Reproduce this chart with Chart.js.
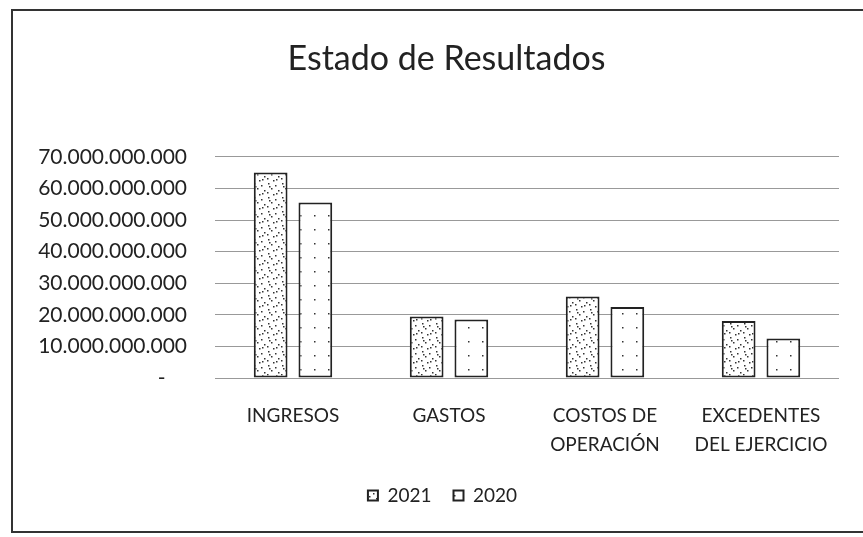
<!DOCTYPE html>
<html>
<head>
<meta charset="utf-8">
<script src="https://cdn.jsdelivr.net/npm/chart.js@4.4.1/dist/chart.umd.min.js"></script>
<style>
    html, body { margin: 0; padding: 0; background: #fff; }
    #marco {
        position: absolute; left: 11px; top: 9px; width: 900px; height: 520px;
        border-left: 2px solid #333; border-top: 2px solid #333; border-bottom: 2px solid #333;
    }
    #lienzo { position: absolute; left: 0; top: 0; }
</style>
</head>
<body>
<div id="marco"></div>
<canvas id="lienzo" width="863" height="537"></canvas>
<script>
// datos
let categorias = ["INGRESOS", "GASTOS", ["COSTOS DE", "OPERACIÓN"], ["EXCEDENTES", "DEL EJERCICIO"]];
let anios = ["2021", "2020"];
let valores2021 = [65000000000, 19500000000, 25800000000, 18000000000];
let valores2020 = [55500000000, 18500000000, 22500000000, 12500000000];

let fuente = "Lato, 'Liberation Sans', sans-serif";

function formatearMiles(valor) {
    if (valor === 0) return "-    ";
    return String(Math.round(valor)).replace(/\B(?=(\d{3})+(?!\d))/g, ".");
}

// trama punteada tipo impresión escaneada
function crearTrama(puntos) {
    let c = document.createElement("canvas");
    c.width = 14; c.height = 14;
    let ctx = c.getContext("2d");
    ctx.fillStyle = "#fff";
    ctx.fillRect(0, 0, 14, 14);
    ctx.fillStyle = "#333";
    puntos.forEach(p => ctx.fillRect(p[0], p[1], 1.5, 1.5));
    return ctx.createPattern(c, "repeat");
}

let trama2021 = crearTrama([[2, 1], [9, 3], [5, 6], [12, 8], [1, 10], [7, 12], [10, 11], [3, 4]]);
let trama2020 = crearTrama([[6, 5]]);

// en el original el título y la leyenda quedan algo a la derecha del centro
const desplazarCajas = {
    id: "desplazarCajas",
    afterLayout(chart) {
        chart.titleBlock.left += 13;
        chart.titleBlock.right += 13;
        chart.legend.left += 9;
        chart.legend.right += 9;
    }
};

new Chart(document.getElementById("lienzo"), {
    type: "bar",
    data: {
        labels: categorias,
        datasets: [
            {
                label: anios[0],
                data: valores2021,
                backgroundColor: trama2021,
                borderColor: "#222",
                borderWidth: 2,
                borderSkipped: false,
                categoryPercentage: 0.573,
                barPercentage: 0.755
            },
            {
                label: anios[1],
                data: valores2020,
                backgroundColor: trama2020,
                borderColor: "#222",
                borderWidth: 2,
                borderSkipped: false,
                categoryPercentage: 0.573,
                barPercentage: 0.755
            }
        ]
    },
    options: {
        responsive: false,
        animation: false,
        layout: { padding: { top: 39, left: 28, right: 24, bottom: 22 } },
        plugins: {
            title: {
                display: true,
                text: "Estado de Resultados",
                color: "#222",
                font: { family: fuente, size: 34, weight: "normal", lineHeight: 1.2 },
                padding: { top: 0, bottom: 77 }
            },
            legend: {
                position: "bottom",
                labels: {
                    color: "#222",
                    font: { family: fuente, size: 19 },
                    boxWidth: 10,
                    boxHeight: 10,
                    padding: 22
                }
            },
            tooltip: { enabled: false }
        },
        scales: {
            x: {
                grid: { display: false },
                border: { display: false },
                ticks: {
                    color: "#222",
                    padding: 15,
                    maxRotation: 0,
                    font: { family: fuente, size: 19, lineHeight: 1.55 }
                },
                afterFit: escala => { escala.height = 86; }
            },
            y: {
                min: 0,
                max: 70000000000,
                border: { display: false },
                grid: { color: "#999", borderDash: [2, 4], drawTicks: false },
                ticks: {
                    stepSize: 10000000000,
                    color: "#222",
                    padding: 28,
                    font: { family: fuente, size: 21 },
                    callback: v => formatearMiles(v)
                },
                afterFit: escala => { escala.width = 187; }
            }
        }
    },
    plugins: [desplazarCajas]
});
</script>
</body>
</html>
